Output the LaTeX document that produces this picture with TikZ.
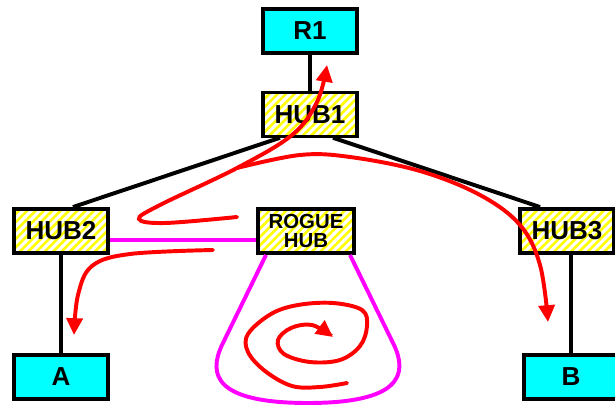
\documentclass[tikz,border=0pt]{standalone}
\usepackage{fontspec}
\setmainfont{Liberation Sans}
\usetikzlibrary{patterns.meta,arrows.meta}
\definecolor{stationcyan}{RGB}{0,255,255}
\definecolor{leakmagenta}{RGB}{255,0,255}
\definecolor{hatchyellow}{RGB}{255,255,0}
\definecolor{flowred}{RGB}{255,0,0}

\begin{document}
\begin{tikzpicture}[x=0.025cm, y=-0.025cm,
    box/.style={draw, line width=2.8pt, inner sep=0pt, minimum width=2.35cm, minimum height=1.1cm, font=\fontsize{18.5}{20}\selectfont\bfseries},
    endbox/.style={box, fill=stationcyan},
    hubbox/.style={box, pattern={Lines[angle=45,distance=4.2pt,line width=1.8pt]}, pattern color=hatchyellow},
    link/.style={line width=2.8pt},
    leak/.style={line width=2.8pt, leakmagenta, line join=round},
    flow/.style={line width=2.8pt, flowred, line cap=round, -{Triangle[length=0.42cm,width=0.4cm]}}]
    \useasboundingbox (0,0) rectangle (615,405);

    % routers, hubs and end stations
    \node[endbox] (r1) at (310,31) {R1};
    \node[hubbox] (hub1) at (310,114.5) {HUB1};
    \node[hubbox] (hub2) at (61,231) {HUB2};
    \node[hubbox, minimum width=2.4cm, font=\fontsize{14.5}{13.5}\selectfont\bfseries, align=center] (roguehub) at (306,231) {ROGUE\\HUB};
    \node[hubbox] (hub3) at (567,231) {HUB3};
    \node[endbox] (a) at (61,377) {A};
    \node[endbox] (b) at (571,377) {B};

    % cabling
    \draw[link] (r1) -- (hub1);
    \draw[link] ([xshift=-0.75cm]hub1.south) -- ([xshift=0.3cm]hub2.north);
    \draw[link] ([xshift=0.575cm]hub1.south) -- ([xshift=-0.675cm]hub3.north);
    \draw[link] (a.north) -- (a.north |- hub2.south);
    \draw[link] (b.north) -- (b.north |- hub3.south);

    % rogue hub and its loop
    \draw[leak] ([yshift=-0.225cm]hub2.east) -- ([yshift=-0.225cm]roguehub.west);
    \draw[leak] ([xshift=-1cm]roguehub.south) -- (222,345) .. controls (208,375) and (215,403) .. (308,403)
        .. controls (400,403) and (408,375) .. (394,345) -- ([xshift=1.1cm]roguehub.south);

    % traffic
    \draw[flow] plot[smooth, tension=0.6] coordinates {(237,217) (165,223) (139,219) (160,205) (237,168) (292,135) (317,102) (327,65)};
    \draw[flow] plot[smooth, tension=0.6] coordinates {(237,168) (300,155) (350,157) (420,171) (480,195) (520,225) (540,265) (548,322)};
    \draw[flow] plot[smooth, tension=0.6] coordinates {(213,250) (130,254) (92,266) (78,295) (74,335)};
    \draw[flow] plot[smooth, tension=0.6] coordinates {(347,383) (320,387) (292,386) (265,371) (248,352) (248,334) (271,314) (298,305) (333,303) (362,310) (367,326) (360,346) (340,360) (310,362) (284,354) (278,340) (291,328) (312,325) (333,337)};
\end{tikzpicture}
\end{document}
